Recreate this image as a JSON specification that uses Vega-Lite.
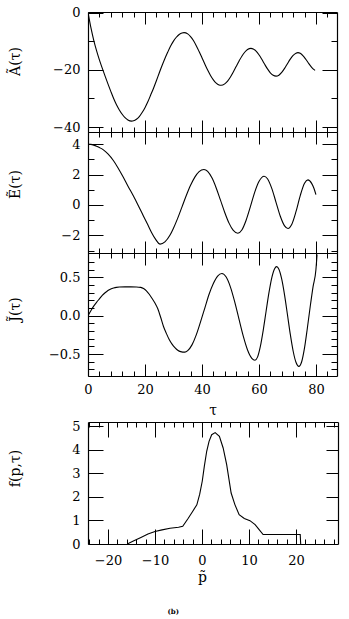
{
  "$schema": "https://vega.github.io/schema/vega-lite/v6.json",
  "padding": {"left": 8, "top": 6, "right": 5, "bottom": 5},
  "background": "white",
  "config": {
    "view": {"stroke": null},
    "font": "DejaVu Serif",
    "axis": {"domainColor": "black", "domainWidth": 1.2, "tickColor": "black", "tickWidth": 1, "labelColor": "black", "labelFont": "DejaVu Serif", "labelFontSize": 13, "titleColor": "black", "titleFont": "DejaVu Serif", "titleFontSize": 14, "titleFontWeight": "normal", "grid": false, "labelFlush": false, "labelOverlap": false, "offset": 0}
  },
  "datasets": {
    "A": [{"t":0,"v":0},{"t":1,"v":-5.2},{"t":2,"v":-9.6},{"t":3,"v":-13.3},{"t":4,"v":-16.5},{"t":5,"v":-19.4},{"t":6,"v":-22.2},{"t":7,"v":-24.9},{"t":8,"v":-27.5},{"t":9,"v":-30},{"t":10,"v":-32.2},{"t":11,"v":-34},{"t":12,"v":-35.5},{"t":13,"v":-36.7},{"t":14,"v":-37.5},{"t":15.3,"v":-37.9},{"t":16,"v":-37.8},{"t":17,"v":-37.25},{"t":18,"v":-36.3},{"t":19,"v":-34.9},{"t":20,"v":-33.2},{"t":21,"v":-31.15},{"t":22,"v":-28.8},{"t":23,"v":-26.4},{"t":24,"v":-23.8},{"t":25,"v":-21.1},{"t":26,"v":-18.5},{"t":27,"v":-16.05},{"t":28,"v":-13.8},{"t":29,"v":-11.7},{"t":30,"v":-9.97},{"t":31,"v":-8.62},{"t":32,"v":-7.65},{"t":33,"v":-7.1},{"t":33.7,"v":-7},{"t":35,"v":-7.45},{"t":36,"v":-8.4},{"t":37,"v":-9.77},{"t":38,"v":-11.55},{"t":39,"v":-13.6},{"t":40,"v":-15.76},{"t":41,"v":-17.97},{"t":42,"v":-20.08},{"t":43,"v":-21.96},{"t":44,"v":-23.5},{"t":45,"v":-24.65},{"t":46,"v":-25.27},{"t":46.7,"v":-25.4},{"t":48,"v":-24.9},{"t":49,"v":-23.94},{"t":50,"v":-22.51},{"t":51,"v":-20.76},{"t":52,"v":-18.85},{"t":53,"v":-16.96},{"t":54,"v":-15.23},{"t":55,"v":-13.85},{"t":56,"v":-12.9},{"t":57.2,"v":-12.5},{"t":58,"v":-12.7},{"t":59,"v":-13.47},{"t":60,"v":-14.73},{"t":61,"v":-16.32},{"t":62,"v":-18.04},{"t":63,"v":-19.67},{"t":64,"v":-21.02},{"t":65,"v":-21.9},{"t":66,"v":-22.2},{"t":67,"v":-21.86},{"t":68,"v":-20.9},{"t":69,"v":-19.5},{"t":70,"v":-17.85},{"t":71,"v":-16.25},{"t":72,"v":-14.95},{"t":73,"v":-14.16},{"t":73.7,"v":-14},{"t":74.5,"v":-14.24},{"t":75.5,"v":-15.1},{"t":76.5,"v":-16.4},{"t":77.5,"v":-17.8},{"t":78.5,"v":-19.1},{"t":79.7,"v":-20.2}],
    "E": [{"t":0,"v":4},{"t":1,"v":3.98},{"t":2,"v":3.93},{"t":3,"v":3.86},{"t":4,"v":3.77},{"t":5.4,"v":3.62},{"t":7,"v":3.35},{"t":8.9,"v":2.92},{"t":10.5,"v":2.45},{"t":12.4,"v":1.82},{"t":14,"v":1.25},{"t":15.9,"v":0.6},{"t":17.5,"v":0.02},{"t":19.4,"v":-0.7},{"t":21,"v":-1.3},{"t":22.3,"v":-1.8},{"t":23.8,"v":-2.27},{"t":25.3,"v":-2.57},{"t":27,"v":-2.42},{"t":28.8,"v":-1.97},{"t":30,"v":-1.52},{"t":31.5,"v":-0.86},{"t":33,"v":-0.12},{"t":34.5,"v":0.62},{"t":36,"v":1.29},{"t":37.5,"v":1.83},{"t":39,"v":2.19},{"t":40.7,"v":2.33},{"t":42,"v":2.21},{"t":43.5,"v":1.78},{"t":45,"v":1.12},{"t":46.5,"v":0.32},{"t":48,"v":-0.49},{"t":49.5,"v":-1.19},{"t":51,"v":-1.67},{"t":52.6,"v":-1.85},{"t":54,"v":-1.64},{"t":55.5,"v":-1.0},{"t":57,"v":-0.11},{"t":58.5,"v":0.83},{"t":60,"v":1.54},{"t":61.8,"v":1.89},{"t":63,"v":1.72},{"t":64.5,"v":1.09},{"t":66,"v":0.175},{"t":67.5,"v":-0.74},{"t":69,"v":-1.37},{"t":70.2,"v":-1.54},{"t":71.5,"v":-1.28},{"t":73,"v":-0.44},{"t":74.5,"v":0.62},{"t":76,"v":1.43},{"t":77.2,"v":1.65},{"t":78.5,"v":1.42},{"t":79.3,"v":1.1},{"t":80,"v":0.68}],
    "J": [{"t":0,"v":0},{"t":1,"v":0.065},{"t":2,"v":0.125},{"t":3,"v":0.175},{"t":4,"v":0.22},{"t":5,"v":0.265},{"t":6,"v":0.3},{"t":7,"v":0.33},{"t":8,"v":0.35},{"t":9,"v":0.362},{"t":10,"v":0.37},{"t":11,"v":0.374},{"t":13,"v":0.376},{"t":15,"v":0.376},{"t":17,"v":0.375},{"t":18.5,"v":0.37},{"t":19.5,"v":0.355},{"t":20.5,"v":0.325},{"t":21.5,"v":0.28},{"t":22.5,"v":0.225},{"t":23.5,"v":0.165},{"t":24.5,"v":0.09},{"t":25.5,"v":-0.02},{"t":26.5,"v":-0.14},{"t":27.5,"v":-0.23},{"t":28.5,"v":-0.31},{"t":29.5,"v":-0.37},{"t":30.5,"v":-0.415},{"t":31.5,"v":-0.45},{"t":32.5,"v":-0.468},{"t":34,"v":-0.475},{"t":35,"v":-0.455},{"t":36.5,"v":-0.38},{"t":38,"v":-0.25},{"t":39.5,"v":-0.08},{"t":41,"v":0.1},{"t":42.5,"v":0.28},{"t":44,"v":0.42},{"t":45.5,"v":0.517},{"t":47,"v":0.55},{"t":48.5,"v":0.504},{"t":50,"v":0.373},{"t":51.5,"v":0.18},{"t":53,"v":-0.045},{"t":54.5,"v":-0.266},{"t":56,"v":-0.446},{"t":57.5,"v":-0.555},{"t":58.6,"v":-0.58},{"t":59.5,"v":-0.54},{"t":60.5,"v":-0.4},{"t":61.5,"v":-0.19},{"t":62.5,"v":0.055},{"t":63.5,"v":0.297},{"t":64.5,"v":0.495},{"t":65.5,"v":0.614},{"t":66.2,"v":0.64},{"t":67,"v":0.607},{"t":68,"v":0.477},{"t":69,"v":0.269},{"t":70,"v":0.016},{"t":71,"v":-0.241},{"t":72,"v":-0.46},{"t":73,"v":-0.607},{"t":74,"v":-0.66},{"t":75,"v":-0.6},{"t":76,"v":-0.42},{"t":77,"v":-0.16},{"t":78,"v":0.12},{"t":79,"v":0.38},{"t":80,"v":0.6},{"t":80.4,"v":0.8}],
    "F": [{"p":-15.9,"v":0},{"p":-14.5,"v":0.14},{"p":-13,"v":0.28},{"p":-11.5,"v":0.42},{"p":-10,"v":0.53},{"p":-8.5,"v":0.6},{"p":-6.8,"v":0.67},{"p":-5,"v":0.71},{"p":-4.1,"v":0.75},{"p":-3,"v":1.07},{"p":-2,"v":1.38},{"p":-1.1,"v":1.66},{"p":-0.5,"v":2.1},{"p":0.06,"v":2.67},{"p":0.5,"v":3.3},{"p":1,"v":3.93},{"p":1.5,"v":4.35},{"p":2.06,"v":4.63},{"p":2.8,"v":4.72},{"p":3.7,"v":4.56},{"p":4.5,"v":4.07},{"p":5.25,"v":3.36},{"p":6.2,"v":2.16},{"p":7,"v":1.67},{"p":7.9,"v":1.24},{"p":9,"v":1.08},{"p":10.2,"v":0.99},{"p":11.3,"v":0.82},{"p":12.2,"v":0.6},{"p":13,"v":0.4},{"p":20.9,"v":0.4},{"p":21,"v":0}]
  },
  "title": {"text": "(b)", "orient": "bottom", "anchor": "middle", "fontSize": 7, "fontWeight": "bold", "font": "DejaVu Serif", "color": "black", "offset": 24},
  "spacing": 3,
  "vconcat": [
    {
      "spacing": 0,
      "bounds": "flush",
      "vconcat": [
        {
          "width": 249, "height": 120,
          "data": {"name": "A"},
          "layer": [
            {"mark": {"type": "line", "color": "black", "strokeWidth": 1.1, "interpolate": "monotone", "clip": true},
             "encoding": {
               "x": {"field": "t", "type": "quantitative", "scale": {"domain": [0, 87.4], "nice": false, "zero": false}, "axis": {"orient": "bottom", "values": [0,20,40,60,80], "tickSize": -12, "labels": false, "title": null}},
               "y": {"field": "v", "type": "quantitative", "scale": {"domain": [-41.7, 0.2], "nice": false, "zero": false}, "axis": {"orient": "left", "values": [0,-20,-40], "tickSize": -15, "labelPadding": 23, "title": "Ã(τ)", "titleX": -66, "titleY": 49}}
             }},
            {"mark": {"type": "line", "opacity": 0},
             "encoding": {
               "x": {"field": "t", "type": "quantitative", "scale": {"domain": [0, 87.4], "nice": false, "zero": false}, "axis": {"orient": "bottom", "values": [4,8,12,16,24,28,32,36,44,48,52,56,64,68,72,76,84], "tickSize": -5, "labels": false, "domain": false, "title": null}},
               "y": {"field": "v", "type": "quantitative", "scale": {"domain": [-41.7, 0.2], "nice": false, "zero": false}, "axis": {"orient": "left", "values": [-10,-30], "tickSize": -6, "labels": false, "domain": false, "title": null}}
             }},
            {"mark": {"type": "line", "opacity": 0},
             "encoding": {
               "x": {"field": "t", "type": "quantitative", "scale": {"domain": [0, 87.4], "nice": false, "zero": false}, "axis": {"orient": "top", "values": [0,20,40,60,80], "tickSize": -12, "labels": false, "title": null}},
               "y": {"field": "v", "type": "quantitative", "scale": {"domain": [-41.7, 0.2], "nice": false, "zero": false}, "axis": {"orient": "right", "values": [0,-20,-40], "tickSize": -15, "labels": false, "title": null}}
             }},
            {"mark": {"type": "line", "opacity": 0},
             "encoding": {
               "x": {"field": "t", "type": "quantitative", "scale": {"domain": [0, 87.4], "nice": false, "zero": false}, "axis": {"orient": "top", "values": [4,8,12,16,24,28,32,36,44,48,52,56,64,68,72,76,84], "tickSize": -5, "labels": false, "domain": false, "title": null}},
               "y": {"field": "v", "type": "quantitative", "scale": {"domain": [-41.7, 0.2], "nice": false, "zero": false}, "axis": {"orient": "right", "values": [-10,-30], "tickSize": -6, "labels": false, "domain": false, "title": null}}
             }}
          ],
          "resolve": {"axis": {"x": "independent", "y": "independent"}}
        },
        {
          "width": 249, "height": 121,
          "data": {"name": "E"},
          "layer": [
            {"mark": {"type": "line", "color": "black", "strokeWidth": 1.1, "interpolate": "monotone", "clip": true},
             "encoding": {
               "x": {"field": "t", "type": "quantitative", "scale": {"domain": [0, 87.4], "nice": false, "zero": false}, "axis": {"orient": "bottom", "values": [0,20,40,60,80], "tickSize": -12, "labels": false, "title": null}},
               "y": {"field": "v", "type": "quantitative", "scale": {"domain": [-3.15, 4.79], "nice": false, "zero": false}, "axis": {"orient": "left", "values": [4,2,0,-2], "tickSize": -15, "labelPadding": 23, "title": "Ẽ(τ)", "titleX": -66, "titleY": 52}}
             }},
            {"mark": {"type": "line", "opacity": 0},
             "encoding": {
               "x": {"field": "t", "type": "quantitative", "scale": {"domain": [0, 87.4], "nice": false, "zero": false}, "axis": {"orient": "bottom", "values": [4,8,12,16,24,28,32,36,44,48,52,56,64,68,72,76,84], "tickSize": -5, "labels": false, "domain": false, "title": null}},
               "y": {"field": "v", "type": "quantitative", "scale": {"domain": [-3.15, 4.79], "nice": false, "zero": false}, "axis": {"orient": "left", "values": [3,1,-1,-3], "tickSize": -6, "labels": false, "domain": false, "title": null}}
             }},
            {"mark": {"type": "line", "opacity": 0},
             "encoding": {
               "x": {"field": "t", "type": "quantitative", "scale": {"domain": [0, 87.4], "nice": false, "zero": false}, "axis": {"orient": "top", "values": [0,20,40,60,80], "tickSize": -12, "labels": false, "title": null}},
               "y": {"field": "v", "type": "quantitative", "scale": {"domain": [-3.15, 4.79], "nice": false, "zero": false}, "axis": {"orient": "right", "values": [4,2,0,-2], "tickSize": -15, "labels": false, "title": null}}
             }},
            {"mark": {"type": "line", "opacity": 0},
             "encoding": {
               "x": {"field": "t", "type": "quantitative", "scale": {"domain": [0, 87.4], "nice": false, "zero": false}, "axis": {"orient": "top", "values": [4,8,12,16,24,28,32,36,44,48,52,56,64,68,72,76,84], "tickSize": -5, "labels": false, "domain": false, "title": null}},
               "y": {"field": "v", "type": "quantitative", "scale": {"domain": [-3.15, 4.79], "nice": false, "zero": false}, "axis": {"orient": "right", "values": [3,1,-1,-3], "tickSize": -6, "labels": false, "domain": false, "title": null}}
             }}
          ],
          "resolve": {"axis": {"x": "independent", "y": "independent"}}
        },
        {
          "width": 249, "height": 123,
          "data": {"name": "J"},
          "layer": [
            {"mark": {"type": "line", "color": "black", "strokeWidth": 1.1, "interpolate": "monotone", "clip": true},
             "encoding": {
               "x": {"field": "t", "type": "quantitative", "scale": {"domain": [0, 87.4], "nice": false, "zero": false}, "axis": {"orient": "bottom", "values": [0,20,40,60,80], "tickSize": -12, "labelPadding": 19, "title": "τ", "titleY": 27}},
               "y": {"field": "v", "type": "quantitative", "scale": {"domain": [-0.786, 0.818], "nice": false, "zero": false}, "axis": {"orient": "left", "values": [0.5,0,-0.5], "format": ".1f", "tickSize": -15, "labelPadding": 23, "title": "J̃(τ)", "titleX": -66, "titleY": 56}}
             }},
            {"mark": {"type": "line", "opacity": 0},
             "encoding": {
               "x": {"field": "t", "type": "quantitative", "scale": {"domain": [0, 87.4], "nice": false, "zero": false}, "axis": {"orient": "bottom", "values": [4,8,12,16,24,28,32,36,44,48,52,56,64,68,72,76,84], "tickSize": -5, "labels": false, "domain": false, "title": null}},
               "y": {"field": "v", "type": "quantitative", "scale": {"domain": [-0.786, 0.818], "nice": false, "zero": false}, "axis": {"orient": "left", "values": [0.7,0.6,0.4,0.3,0.2,0.1,-0.1,-0.2,-0.3,-0.4,-0.6,-0.7], "tickSize": -6, "labels": false, "domain": false, "title": null}}
             }},
            {"mark": {"type": "line", "opacity": 0},
             "encoding": {
               "x": {"field": "t", "type": "quantitative", "scale": {"domain": [0, 87.4], "nice": false, "zero": false}, "axis": {"orient": "top", "values": [0,20,40,60,80], "tickSize": -12, "labels": false, "title": null}},
               "y": {"field": "v", "type": "quantitative", "scale": {"domain": [-0.786, 0.818], "nice": false, "zero": false}, "axis": {"orient": "right", "values": [0.5,0,-0.5], "tickSize": -15, "labels": false, "title": null}}
             }},
            {"mark": {"type": "line", "opacity": 0},
             "encoding": {
               "x": {"field": "t", "type": "quantitative", "scale": {"domain": [0, 87.4], "nice": false, "zero": false}, "axis": {"orient": "top", "values": [4,8,12,16,24,28,32,36,44,48,52,56,64,68,72,76,84], "tickSize": -5, "labels": false, "domain": false, "title": null}},
               "y": {"field": "v", "type": "quantitative", "scale": {"domain": [-0.786, 0.818], "nice": false, "zero": false}, "axis": {"orient": "right", "values": [0.7,0.6,0.4,0.3,0.2,0.1,-0.1,-0.2,-0.3,-0.4,-0.6,-0.7], "tickSize": -6, "labels": false, "domain": false, "title": null}}
             }}
          ],
          "resolve": {"axis": {"x": "independent", "y": "independent"}}
        }
      ]
    },
    {
      "width": 250, "height": 122,
      "data": {"name": "F"},
      "layer": [
        {"mark": {"type": "line", "color": "black", "strokeWidth": 1.1, "interpolate": "linear", "clip": true},
         "encoding": {
           "x": {"field": "p", "type": "quantitative", "scale": {"domain": [-24.26, 28.94], "nice": false, "zero": false}, "axis": {"orient": "bottom", "values": [-20,-10,0,10,20], "tickSize": -15, "labelPadding": 25, "title": "p̃", "titleY": 26, "titleX": 114}},
           "y": {"field": "v", "type": "quantitative", "scale": {"domain": [0, 5.17], "nice": false, "zero": false}, "axis": {"orient": "left", "values": [0,1,2,3,4,5], "tickSize": -15, "labelPadding": 23, "title": "f(p,τ)", "titleX": -66, "titleY": 46}}
         }},
        {"mark": {"type": "line", "opacity": 0},
         "encoding": {
           "x": {"field": "p", "type": "quantitative", "scale": {"domain": [-24.26, 28.94], "nice": false, "zero": false}, "axis": {"orient": "bottom", "values": [-24,-22,-18,-16,-14,-12,-8,-6,-4,-2,2,4,6,8,12,14,16,18,22,24,26,28], "tickSize": -5, "labels": false, "domain": false, "title": null}},
           "y": {"field": "v", "type": "quantitative", "scale": {"domain": [0, 5.17], "nice": false, "zero": false}, "axis": null}
         }},
        {"mark": {"type": "line", "opacity": 0},
         "encoding": {
           "x": {"field": "p", "type": "quantitative", "scale": {"domain": [-24.26, 28.94], "nice": false, "zero": false}, "axis": {"orient": "top", "values": [-20,-10,0,10,20], "tickSize": -15, "labels": false, "title": null}},
           "y": {"field": "v", "type": "quantitative", "scale": {"domain": [0, 5.17], "nice": false, "zero": false}, "axis": {"orient": "right", "values": [1,2,3,4,5], "tickSize": -12, "labels": false, "title": null}}
         }},
        {"mark": {"type": "line", "opacity": 0},
         "encoding": {
           "x": {"field": "p", "type": "quantitative", "scale": {"domain": [-24.26, 28.94], "nice": false, "zero": false}, "axis": {"orient": "top", "values": [-24,-22,-18,-16,-14,-12,-8,-6,-4,-2,2,4,6,8,12,14,16,18,22,24,26,28], "tickSize": -5, "labels": false, "domain": false, "title": null}},
           "y": {"field": "v", "type": "quantitative", "scale": {"domain": [0, 5.17], "nice": false, "zero": false}, "axis": null}
         }}
      ],
      "resolve": {"axis": {"x": "independent", "y": "independent"}}
    }
  ]
}
